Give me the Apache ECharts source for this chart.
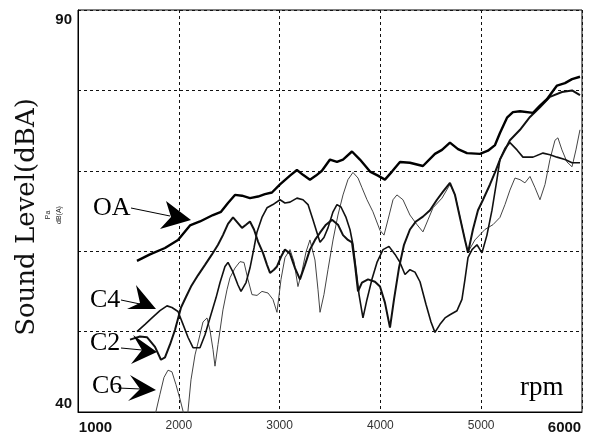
<!DOCTYPE html>
<html>
<head>
<meta charset="utf-8">
<script src="https://cdn.jsdelivr.net/npm/echarts@6/dist/echarts.min.js"></script>
<style>
  html, body { margin: 0; padding: 0; background: #fff; }
  #chart { width: 592px; height: 437px; }
</style>
</head>
<body>
<div id="chart"></div>
<script>
// [rpm, dB(A)]
const oaData = [
  [1585, 58.8], [1714, 59.6], [1863, 60.4], [1992, 61.4], [2111, 63.2], [2210, 63.7],
  [2339, 64.5], [2419, 64.9], [2488, 66.0], [2557, 67.0], [2627, 66.9], [2706, 66.6],
  [2786, 66.8], [2855, 67.1], [2924, 67.3], [3004, 68.3], [3103, 69.4], [3172, 70.1],
  [3232, 69.5], [3301, 68.9], [3361, 69.4], [3420, 70.0], [3500, 71.4], [3569, 71.1],
  [3629, 71.4], [3718, 72.4], [3797, 71.4], [3897, 69.9], [3976, 69.4], [4045, 68.9],
  [4115, 69.9], [4194, 71.1], [4293, 71.0], [4422, 70.6], [4541, 72.1], [4611, 72.6],
  [4690, 73.5], [4770, 72.7], [4859, 72.2], [4988, 72.1], [5067, 72.5], [5137, 73.2],
  [5186, 74.7], [5256, 76.6], [5315, 77.3], [5385, 77.4], [5514, 77.2], [5583, 78.1],
  [5652, 78.9], [5752, 80.6], [5831, 80.9], [5901, 81.4], [5980, 81.7]
];
const c4Data = [
  [1585, 50.0], [1665, 50.9], [1734, 51.7], [1813, 52.6], [1883, 53.2], [1932, 53.0],
  [1992, 52.5], [2042, 50.9], [2091, 49.3], [2141, 48.0], [2210, 48.0], [2260, 49.6],
  [2309, 51.7], [2369, 54.2], [2409, 56.1], [2458, 58.1], [2488, 58.6], [2538, 57.4],
  [2587, 55.8], [2617, 55.0], [2667, 56.1], [2706, 57.9], [2746, 60.4], [2776, 62.4],
  [2825, 64.2], [2875, 65.4], [2934, 65.8], [3004, 66.4], [3053, 66.0], [3103, 66.1],
  [3172, 66.6], [3232, 66.4], [3282, 65.8], [3331, 63.9], [3371, 62.3], [3401, 61.1],
  [3440, 61.7], [3480, 62.9], [3530, 64.9], [3569, 65.8], [3609, 65.5], [3659, 64.2],
  [3698, 62.7], [3728, 60.8], [3758, 57.7], [3788, 54.6], [3827, 51.7], [3867, 54.0],
  [3916, 56.5], [3966, 58.6], [4026, 60.2], [4085, 60.6], [4145, 59.6], [4194, 58.6],
  [4244, 57.1], [4293, 57.7], [4343, 57.4], [4393, 56.2], [4452, 53.4], [4502, 51.2],
  [4541, 49.9], [4591, 50.9], [4641, 51.7], [4690, 52.1], [4760, 52.6], [4809, 54.0],
  [4839, 56.5], [4869, 59.2], [4909, 60.2], [4958, 60.8], [5008, 59.8], [5057, 62.0],
  [5107, 65.1], [5156, 68.9], [5186, 71.4], [5236, 72.8], [5285, 73.5], [5355, 72.6],
  [5414, 71.7], [5514, 71.7], [5613, 72.2], [5682, 72.0], [5752, 71.7], [5831, 71.4],
  [5901, 71.0], [5980, 71.0]
];
const c2Data = [
  [1516, 49.0], [1615, 49.4], [1684, 49.3], [1764, 48.1], [1823, 46.5], [1863, 46.8],
  [1913, 48.4], [1962, 50.2], [2022, 53.0], [2071, 54.3], [2121, 55.6], [2190, 57.0],
  [2260, 58.3], [2329, 59.6], [2389, 60.8], [2438, 62.0], [2488, 63.4], [2538, 64.2],
  [2587, 63.5], [2627, 62.9], [2667, 63.3], [2706, 63.7], [2746, 62.7], [2786, 61.2],
  [2835, 59.8], [2875, 58.3], [2905, 57.3], [2944, 57.7], [2974, 58.1], [3014, 59.3],
  [3053, 60.2], [3103, 59.7], [3153, 57.9], [3202, 56.5], [3252, 58.3], [3301, 60.2],
  [3351, 61.4], [3401, 62.3], [3460, 63.3], [3520, 63.9], [3579, 63.3], [3629, 62.0],
  [3678, 61.4], [3718, 61.1], [3748, 58.3], [3778, 55.0], [3817, 56.1], [3877, 56.5],
  [3946, 56.2], [3996, 55.6], [4045, 53.6], [4095, 50.5], [4135, 54.0], [4184, 57.9],
  [4234, 60.8], [4293, 62.7], [4353, 63.7], [4422, 64.3], [4492, 65.1], [4561, 66.4],
  [4621, 67.4], [4690, 68.5], [4740, 67.0], [4789, 64.2], [4839, 61.4], [4869, 59.8],
  [4918, 62.7], [4968, 65.1], [5018, 66.4], [5087, 68.3], [5137, 69.8], [5186, 71.4],
  [5285, 73.8], [5385, 75.1], [5484, 76.7], [5583, 77.9], [5682, 79.2], [5801, 79.8],
  [5901, 80.0], [5980, 79.4]
];
const c6Data = [
  [1734, 38.4], [1774, 40.1], [1813, 42.2], [1853, 44.3], [1893, 45.2], [1932, 45.0],
  [1972, 43.4], [2012, 41.6], [2042, 40.1], [2061, 38.4], [2081, 38.4], [2091, 40.1],
  [2121, 44.0], [2161, 47.1], [2210, 49.6], [2240, 51.2], [2280, 51.7], [2309, 50.2],
  [2339, 47.8], [2359, 45.7], [2389, 48.4], [2438, 52.7], [2478, 55.2], [2508, 56.7],
  [2557, 57.9], [2607, 58.7], [2647, 58.6], [2686, 56.5], [2726, 54.6], [2776, 54.5],
  [2825, 55.0], [2885, 54.8], [2934, 54.0], [2974, 52.4], [3014, 56.5], [3053, 59.2],
  [3103, 60.2], [3143, 58.7], [3182, 55.6], [3222, 57.5], [3262, 59.9], [3301, 61.4],
  [3351, 58.9], [3381, 55.2], [3401, 52.4], [3440, 54.6], [3480, 57.7], [3530, 61.4],
  [3579, 64.5], [3629, 67.0], [3678, 68.9], [3728, 69.8], [3778, 69.1], [3817, 67.9],
  [3867, 66.4], [3926, 64.9], [3996, 62.6], [4036, 62.0], [4075, 63.9], [4125, 66.4],
  [4164, 67.0], [4224, 66.4], [4293, 64.5], [4363, 63.3], [4422, 62.4], [4472, 63.9],
  [4522, 65.4], [4611, 66.6], [4690, 68.3], [4740, 67.0], [4789, 64.3], [4839, 61.4],
  [4869, 59.9], [4938, 61.4], [5037, 62.7], [5117, 63.3], [5186, 64.2], [5236, 65.8],
  [5285, 67.6], [5335, 69.1], [5385, 68.9], [5434, 68.5], [5484, 69.3], [5534, 67.9],
  [5583, 66.4], [5633, 68.3], [5682, 71.4], [5732, 73.8], [5761, 74.1], [5801, 72.6],
  [5851, 71.1], [5901, 70.5], [5940, 72.6], [5980, 75.1]
];
const xTicks = [1000, 2000, 3000, 4000, 5000, 6000];
const yTicks = [40, 90];

const chart = echarts.init(document.getElementById('chart'));

function arrowHead(tip, top, notch, bottom) {
  return {
    type: 'polygon',
    shape: { points: [tip, top, notch, bottom] },
    style: { fill: '#000' },
    z: 100,
  };
}
function arrowLine(x1, y1, x2, y2) {
  return {
    type: 'line',
    shape: { x1: x1, y1: y1, x2: x2, y2: y2 },
    style: { stroke: '#000', lineWidth: 1 },
    z: 100,
  };
}
function tag(text, x, y) {
  return {
    type: 'text',
    x: x,
    y: y,
    style: {
      text: text,
      font: '26px "Liberation Serif"',
      fill: '#000',
      verticalAlign: 'middle',
    },
    z: 100,
  };
}

const lineSeries = (name, data, width, color) => ({
  name: name,
  type: 'line',
  data: data,
  showSymbol: false,
  symbol: 'none',
  clip: true,
  lineStyle: { width: width, color: color },
  emphasis: { disabled: true },
});

chart.setOption({
  animation: false,
  backgroundColor: '#fff',
  grid: {
    left: 78,
    right: 10,
    top: 10,
    bottom: 25,
    show: true,
    borderColor: '#000',
    borderWidth: 1,
  },
  xAxis: {
    type: 'value',
    min: 1000,
    max: 6000,
    interval: 1000,
    axisLine: { show: true, lineStyle: { color: '#000', width: 1 } },
    axisTick: { show: false },
    splitLine: { show: true, lineStyle: { color: '#111', type: [3, 3], width: 1 } },
    axisLabel: {
      margin: 8,
      formatter: (v) => {
        if (!xTicks.includes(v)) return '';
        if (v === 1000) return '{l|' + v + '}';
        if (v === 6000) return '{r|' + v + '}';
        return '{n|' + v + '}';
      },
      rich: {
        l: { fontFamily: 'Liberation Sans', fontWeight: 'bold', fontSize: 15, color: '#111', padding: [0, 0, 0, 35] },
        r: { fontFamily: 'Liberation Sans', fontWeight: 'bold', fontSize: 15, color: '#111', padding: [0, 35, 0, 0] },
        n: { fontFamily: 'Liberation Sans', fontSize: 12, color: '#333' },
      },
    },
  },
  yAxis: {
    type: 'value',
    min: 40,
    max: 90,
    interval: 10,
    name: 'Sound Level(dBA)',
    nameLocation: 'middle',
    nameGap: 38,
    nameRotate: 90,
    nameTextStyle: { fontFamily: 'DejaVu Serif', fontSize: 26, color: '#111', padding: [0, 12, 0, 0] },
    axisLine: { show: true, lineStyle: { color: '#000', width: 1 } },
    axisTick: { show: false },
    splitLine: { show: true, lineStyle: { color: '#111', type: [3, 3], width: 1 } },
    axisLabel: {
      margin: 6,
      formatter: (v) => {
        if (!yTicks.includes(v)) return '';
        return v === 90 ? '{t|' + v + '}' : '{b|' + v + '}';
      },
      rich: {
        t: { fontFamily: 'Liberation Sans', fontWeight: 'bold', fontSize: 15, color: '#111', padding: [20, 0, 0, 0] },
        b: { fontFamily: 'Liberation Sans', fontWeight: 'bold', fontSize: 15, color: '#111', padding: [0, 0, 17, 0] },
      },
    },
  },
  series: [
    lineSeries('C6', c6Data, 1, '#444'),
    lineSeries('C2', c2Data, 2, '#111'),
    lineSeries('C4', c4Data, 1.6, '#111'),
    lineSeries('OA', oaData, 2.4, '#000'),
  ],
  graphic: [
    {
      type: 'text', x: 48, y: 215, rotation: Math.PI / 2,
      style: { text: 'Pa', font: '7px "Liberation Sans"', fill: '#222', align: 'center', verticalAlign: 'middle' },
    },
    {
      type: 'text', x: 59, y: 215, rotation: Math.PI / 2,
      style: { text: 'dB(A)', font: '7px "Liberation Sans"', fill: '#222', align: 'center', verticalAlign: 'middle' },
    },
    tag('OA', 93, 208),
    arrowLine(131, 208, 170, 216),
    arrowHead([191, 220], [166, 201], [171, 217], [160, 229]),
    tag('C4', 90, 300),
    arrowLine(121, 300, 140, 304),
    arrowHead([156, 309], [136, 285], [140, 303], [127, 309]),
    tag('C2', 90, 343),
    arrowLine(121, 348, 142, 350),
    arrowHead([157, 352], [133, 335], [142, 350], [131, 364]),
    tag('C6', 92, 386),
    arrowLine(118, 388, 141, 389),
    arrowHead([156, 390], [130, 375], [140, 389], [128, 401]),
    {
      type: 'text', x: 520, y: 388,
      style: { text: 'rpm', font: '27px "Liberation Serif"', fill: '#000', verticalAlign: 'middle' },
      z: 100,
    },
  ],
});
</script>
</body>
</html>
